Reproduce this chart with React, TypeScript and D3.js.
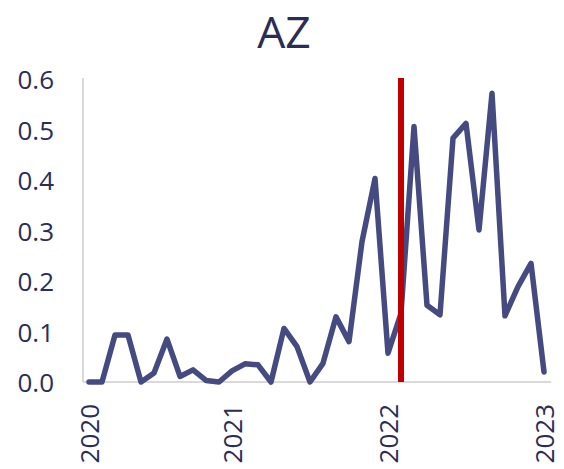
import React from "react";
import * as d3 from "d3";

const values: number[] = [
  0, 0, 0.093, 0.093, 0, 0.018, 0.085, 0.011, 0.024, 0.003, 0, 0.022,
  0.036, 0.034, 0, 0.106, 0.07, 0, 0.037, 0.129, 0.08, 0.278, 0.403, 0.057,
  0.136, 0.506, 0.152, 0.133, 0.483, 0.512, 0.301, 0.572, 0.131, 0.189, 0.235, 0.02,
];
const yTicks: number[] = [0, 0.1, 0.2, 0.3, 0.4, 0.5, 0.6];
const xTickIndex: number[] = [0, 11, 23, 35];
const xTickLabels: string[] = ["2020", "2021", "2022", "2023"];
const markerIndex = 24;
const title = "AZ";

const W = 564;
const H = 469;
const FONT = "'Open Sans', sans-serif";
const TEXT = "#2b2d55";

export default function App() {
  const x = d3.scaleLinear().domain([0, values.length - 1]).range([89, 544]);
  const y = d3.scaleLinear().domain([0, 0.6]).range([382, 79]);
  const line = d3
    .line<number>()
    .x((_, i) => x(i))
    .y((d) => y(d));
  return (
    <svg
      width={W}
      height={H}
      style={{ position: "absolute", left: 0, top: 0, background: "#fff" }}
    >
      <text x={284} y={48} textAnchor="middle" fontFamily={FONT} fontSize={44.5} fill={TEXT}>
        {title}
      </text>
      <line x1={83} x2={83} y1={78} y2={y(0)} stroke="#d9d9d9" strokeWidth={2} />
      <line x1={83} x2={551} y1={y(0)} y2={y(0)} stroke="#d9d9d9" strokeWidth={2} />
      {yTicks.map((t) => (
        <text
          key={t}
          x={54}
          y={y(t)}
          textAnchor="end"
          dominantBaseline="central"
          fontFamily={FONT}
          fontSize={26}
          fill={TEXT}
        >
          {t.toFixed(1)}
        </text>
      ))}
      {xTickIndex.map((idx, k) => (
        <text
          key={k}
          transform={`translate(${x(idx)},404) rotate(-90)`}
          textAnchor="end"
          dominantBaseline="central"
          fontFamily={FONT}
          fontSize={26}
          fill={TEXT}
        >
          {xTickLabels[k]}
        </text>
      ))}
      <path
        d={line(values) || ""}
        fill="none"
        stroke="#454a80"
        strokeWidth={5.5}
        strokeLinejoin="round"
        strokeLinecap="round"
      />
      <line
        x1={x(markerIndex)}
        x2={x(markerIndex)}
        y1={78}
        y2={y(0)}
        stroke="#c00000"
        strokeWidth={6}
      />
    </svg>
  );
}
